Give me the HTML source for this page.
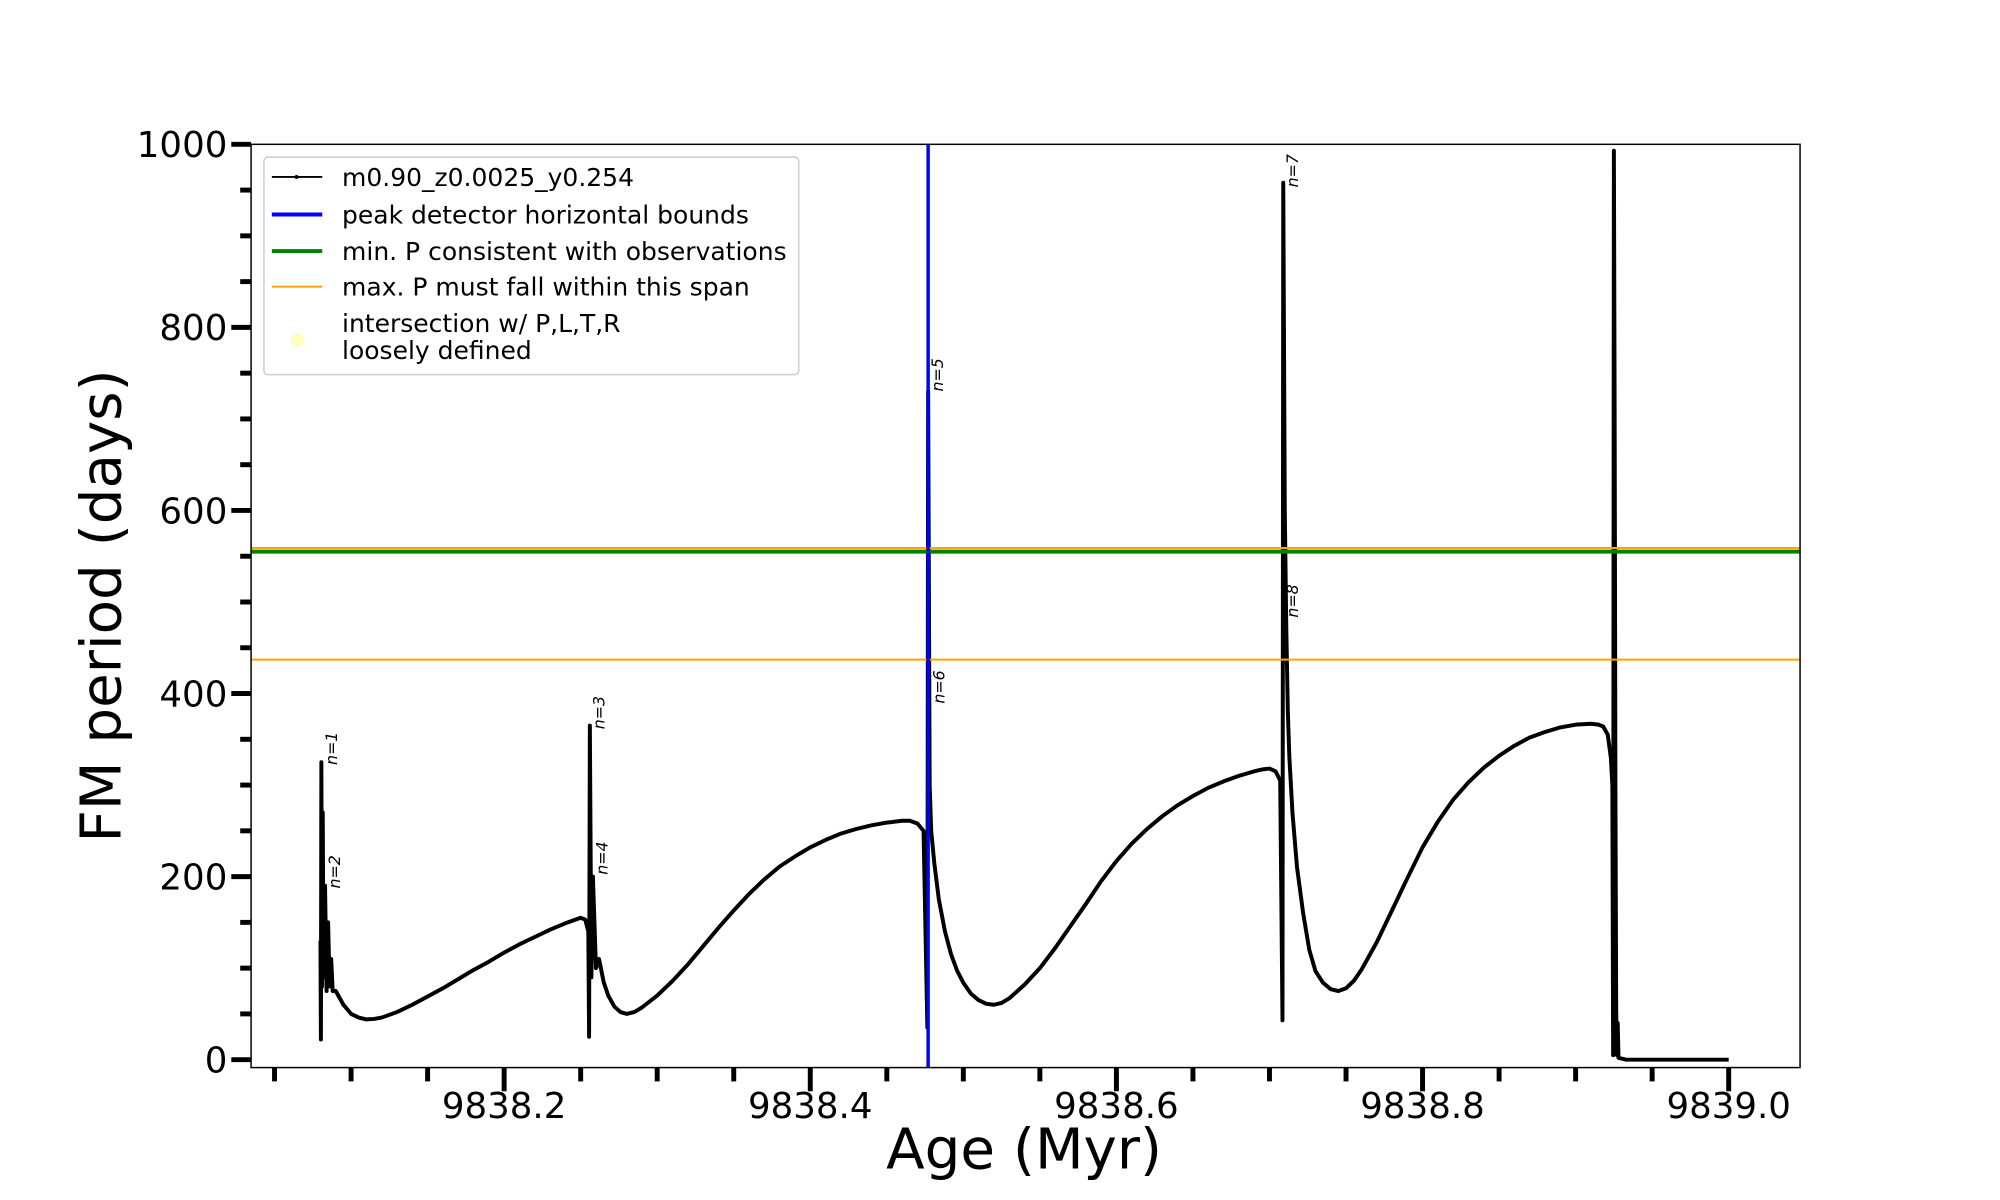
<!DOCTYPE html>
<html><head><meta charset="utf-8"><style>
body{margin:0;background:#fff}
svg{display:block;font-family:"DejaVu Sans","Liberation Sans",sans-serif}
</style></head><body>
<svg id="chart" width="2000" height="1200" viewBox="0 0 2000 1200">
<rect x="0" y="0" width="2000" height="1200" fill="#fff"/>
<g transform="scale(0.9885)">
<g id="plot"></g>
<text x="1036" y="1182" font-size="57" text-anchor="middle">Age (Myr)</text>
<text x="0" y="0" font-size="57" text-anchor="middle" transform="translate(122 613) rotate(-90)">FM period (days)</text>
<g font-size="25.3">
<rect x="267" y="159" width="541" height="220" rx="4" fill="#fff" fill-opacity="0.85" stroke="#ccc" stroke-width="1.5"/>
<line x1="275" x2="326" y1="179" y2="179" stroke="#000" stroke-width="2"/>
<circle cx="300" cy="179" r="2" fill="#000"/>
<text x="346" y="188">m0.90_z0.0025_y0.254</text>
<line x1="275" x2="326" y1="217" y2="217" stroke="#0000ff" stroke-width="4"/>
<text x="346" y="226">peak detector horizontal bounds</text>
<line x1="275" x2="326" y1="254" y2="254" stroke="#008000" stroke-width="4"/>
<text x="346" y="263">min. P consistent with observations</text>
<line x1="275" x2="326" y1="290" y2="290" stroke="#ffa500" stroke-width="2"/>
<text x="346" y="299">max. P must fall within this span</text>
<circle cx="301" cy="344" r="7" fill="#ffffc0"/>
<text x="346" y="336">intersection w/ P,L,T,R</text>
<text x="346" y="363">loosely defined</text>
</g>
</g>
</svg>
<script>
const ages=[9838.080,9838.0803,9838.0806,9838.081,9838.0815,9838.082,9838.083,9838.084,9838.085,9838.086,9838.087,9838.088,
9838.090,9838.095,9838.100,9838.105,9838.110,9838.115,9838.120,9838.130,9838.140,9838.150,9838.160,9838.170,9838.180,9838.190,9838.200,9838.210,9838.220,9838.230,9838.240,9838.245,9838.250,9838.253,9838.255,
9838.2555,9838.256,9838.257,9838.258,9838.260,9838.262,9838.265,9838.268,9838.272,9838.276,9838.280,9838.285,9838.290,9838.300,9838.310,9838.320,9838.330,9838.340,9838.350,9838.360,9838.370,9838.380,9838.390,9838.400,9838.410,9838.420,9838.430,9838.440,9838.450,9838.460,9838.465,9838.470,9838.474,
9838.4765,9838.477,9838.478,9838.479,9838.481,9838.484,9838.488,9838.492,9838.496,9838.500,9838.505,9838.510,9838.515,9838.520,9838.525,9838.530,9838.540,9838.550,9838.560,9838.570,9838.580,9838.590,9838.600,9838.610,9838.620,9838.630,9838.640,9838.650,9838.660,9838.670,9838.680,9838.690,9838.695,9838.700,9838.704,9838.707,
9838.7085,9838.709,9838.710,9838.711,9838.712,9838.713,9838.715,9838.718,9838.722,9838.726,9838.730,9838.735,9838.740,9838.745,9838.750,9838.755,9838.760,9838.770,9838.780,9838.790,9838.800,9838.810,9838.820,9838.830,9838.840,9838.850,9838.860,9838.870,9838.880,9838.890,9838.900,9838.910,9838.915,9838.918,9838.921,9838.923,9838.924,
9838.9245,9838.925,9838.9255,9838.926,9838.9265,9838.927,9838.9275,9838.928,9838.933,9839.000];
const periods=[130,22,325,80,270,90,190,75,150,80,110,75,
75,60,50,46,44,44.5,46,52,60,69,78,88,98,107,117,126,134,142,149,152,155,153,140,
25,365,90,200,100,110,85,70,58,52,50,52,57,70,86,104,124,144,163,181,197,211,222,232,240,247,252,256,259,261,261,258,250,
35,730,300,250,215,175,140,115,97,84,72,65,61,60,62,67,82,100,122,146,170,195,217,236,252,266,278,288,297,304,310,315,317,318,315,305,
43,958,600,470,380,330,270,210,160,120,97,84,77,75,78,86,98,128,163,198,232,260,284,303,319,332,343,352,358,363,366,367,366,364,355,330,300,
5,993,700,300,55,5,40,2,0,0];
const xTicks=[9838.2,9838.4,9838.6,9838.8,9839.0];
const xTickLabels=["9838.2","9838.4","9838.6","9838.8","9839.0"];
const yTicks=[0,200,400,600,800,1000];
const yTickLabels=["0","200","400","600","800","1000"];
const hLinesOrange=[559,437];
const hLineGreen=[555];
const vLineBlue=[9838.477];
const nLabels=["n=1","n=2","n=3","n=4","n=5","n=6","n=7","n=8"];
const nLabelAges=[9838.081,9838.083,9838.256,9838.258,9838.477,9838.478,9838.709,9838.709];
const nLabelPeriods=[322,187,361,202,730,389,953,483];

const L=254,R=1821,T=146,B=1080;
const X0=9838.2,XS=1548.5;
function xs(v){return 510+(v-X0)*XS;}
function ys(v){return 1072-v*0.926;}
const NS="http://www.w3.org/2000/svg";
const g=document.getElementById('plot');
function mk(tag,attrs,parent){const e=document.createElementNS(NS,tag);for(const k in attrs)e.setAttribute(k,attrs[k]);(parent||g).appendChild(e);return e;}

let d="";
for(let i=0;i<ages.length;i++){d+=(i?"L":"M")+xs(ages[i]).toFixed(2)+","+ys(periods[i]).toFixed(2);}
const line=mk('path',{d:d,fill:"none",stroke:"#000","stroke-width":4,"stroke-linejoin":"round"});



hLinesOrange.forEach(v=>{
 const l=mk('line',{x1:L,x2:R,y1:ys(v),y2:ys(v),stroke:"#ffa500","stroke-width":2});
 
 
});
hLineGreen.forEach(v=>{
 const l=mk('line',{x1:L,x2:R,y1:ys(v),y2:ys(v),stroke:"#008000","stroke-width":4});
 
 
});
vLineBlue.forEach(v=>{
 const l=mk('line',{x1:xs(v),x2:xs(v),y1:T,y2:B,stroke:"#0000ff","stroke-width":3.5});
 
 
});

nLabels.forEach((t,i)=>{
 const x=xs(nLabelAges[i])+15,y=ys(nLabelPeriods[i]);
 const e=mk('text',{x:x,y:y,"font-size":16,transform:`rotate(-90 ${x} ${y})`,"text-anchor":"start","font-style":"italic"});
 e.textContent=t;
 
 
});

const fr=mk('rect',{x:L,y:T,width:R-L,height:B-T,fill:"none",stroke:"#000","stroke-width":1.5});



for(let k=0;k<20;k++){
 const v=9838.05+k*0.05; if(v>9839.046)break;
 const x=xs(v); const major=xTicks.some(t=>Math.abs(t-v)<1e-6);
 const t=mk('line',{x1:x,x2:x,y1:B,y2:B+(major?24:14),stroke:"#000","stroke-width":5});
 
 
}
xTicks.forEach((v,i)=>{
 const e=mk('text',{x:xs(v),y:1131,"font-size":36,"text-anchor":"middle"});
 e.textContent=xTickLabels[i];
 
 
});
for(let v=0;v<=1000;v+=50){
 const y=ys(v); const major=v%200===0;
 const t=mk('line',{x1:L-(major?20:11),x2:L,y1:y,y2:y,stroke:"#000","stroke-width":5});
 
 
}
yTicks.forEach((v,i)=>{
 const e=mk('text',{x:230,y:ys(v)+13,"font-size":36,"text-anchor":"end"});
 e.textContent=yTickLabels[i];
 
 
});
</script>
</body></html>
